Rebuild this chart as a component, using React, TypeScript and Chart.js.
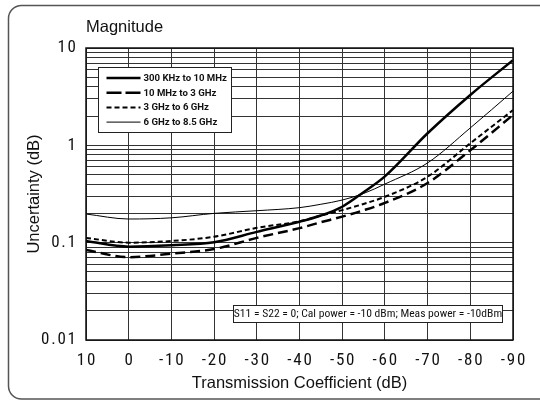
import React, { useEffect, useRef } from "react";
import { Chart, registerables } from "chart.js";

Chart.register(...registerables);

const xValues = [10, 0, -10, -20, -30, -40, -45, -50, -55, -60, -70, -80, -90];
const series300k = [0.104, 0.091, 0.094, 0.101, 0.129, 0.164, 0.19, 0.234, 0.33, 0.48, 1.33, 3.29, 7.5];
const series10M = [0.084, 0.071, 0.077, 0.086, 0.112, 0.141, 0.162, 0.185, 0.215, 0.256, 0.41, 0.89, 2.05];
const series3G = [0.112, 0.1, 0.104, 0.115, 0.142, 0.166, 0.19, 0.216, 0.25, 0.296, 0.476, 1.05, 2.3];
const series6G = [0.197, 0.175, 0.18, 0.2, 0.213, 0.229, 0.248, 0.274, 0.32, 0.4, 0.66, 1.51, 3.6];
const seriesLabels = ["300 KHz to 10 MHz", "10 MHz to 3 GHz", "3 GHz to 6 GHz", "6 GHz to 8.5 GHz"];
const yMajorTicks = [0.01, 0.1, 1, 10];
const yTickLabels = ["0.01", "0.1", "1", "10"];
const titleText = "Magnitude";
const xTitle = "Transmission Coefficient (dB)";
const yTitle = "Uncertainty (dB)";
const noteText = "S11 = S22 = 0; Cal power = -10 dBm; Meas power = -10dBm";

const NARROW = "'Roboto Condensed', 'Liberation Sans Narrow', Roboto, sans-serif";
const SANS = "'Liberation Sans', Arial, sans-serif";
const ROBOTO = "Roboto, 'Liberation Sans', sans-serif";

const spaced = (s: string) => s.split("").join("\u200A");

const decorPlugin = {
  id: "decor",
  beforeDraw(chart: any) {
    const ctx = chart.ctx;
    ctx.save();
    ctx.fillStyle = "#fff";
    ctx.fillRect(0, 0, chart.width, chart.height);
    ctx.restore();
  },
  afterDraw(chart: any) {
    const ctx = chart.ctx;
    const area = chart.chartArea;
    ctx.save();
    // outer rounded border
    ctx.strokeStyle = "#555";
    ctx.lineWidth = 1.5;
    ctx.beginPath();
    const bx = 8.5, by = 5.5, bw = 545, bh = 393.5, r = 13;
    ctx.moveTo(bx + r, by);
    ctx.lineTo(bx + bw - r, by);
    ctx.arcTo(bx + bw, by, bx + bw, by + r, r);
    ctx.lineTo(bx + bw, by + bh - r);
    ctx.arcTo(bx + bw, by + bh, bx + bw - r, by + bh, r);
    ctx.lineTo(bx + r, by + bh);
    ctx.arcTo(bx, by + bh, bx, by + bh - r, r);
    ctx.lineTo(bx, by + r);
    ctx.arcTo(bx, by, bx + r, by, r);
    ctx.stroke();

    // title
    ctx.fillStyle = "#111";
    ctx.font = `16.5px ${SANS}`;
    ctx.textAlign = "left";
    ctx.textBaseline = "middle";
    ctx.fillText(titleText, area.left, 27);

    // legend box
    const lx = area.left + 12.5, ly = 67.5, lw = 133, lh = 65;
    ctx.fillStyle = "#fff";
    ctx.fillRect(lx, ly, lw, lh);
    ctx.strokeStyle = "#222";
    ctx.lineWidth = 1;
    ctx.strokeRect(lx, ly, lw, lh);
    ctx.font = `bold 9.6px ${ROBOTO}`;
    chart.data.datasets.forEach((ds: any, i: number) => {
      const yy = ly + 10.5 + i * 14.7;
      ctx.save();
      ctx.strokeStyle = "#000";
      ctx.lineWidth = ds.borderWidth;
      ctx.setLineDash(ds.legendDash || ds.borderDash || []);
      ctx.beginPath();
      ctx.moveTo(lx + 8, yy);
      ctx.lineTo(lx + 42, yy);
      ctx.stroke();
      ctx.restore();
      ctx.fillStyle = "#111";
      ctx.textAlign = "left";
      ctx.textBaseline = "middle";
      ctx.fillText(ds.label, lx + 45, yy + 0.5);
    });

    // note box
    const nx = 233.5, ny = 305.5, nw = 269, nh = 17;
    ctx.fillStyle = "#fff";
    ctx.fillRect(nx, ny, nw, nh);
    ctx.strokeStyle = "#222";
    ctx.strokeRect(nx, ny, nw, nh);
    ctx.fillStyle = "#111";
    ctx.font = `11.6px ${NARROW}`;
    ctx.textAlign = "center";
    ctx.fillText(noteText, nx + nw / 2, ny + nh / 2 + 0.5);

    // plot border
    ctx.strokeStyle = "#111";
    ctx.lineWidth = 1.5;
    ctx.strokeRect(area.left, area.top, area.right - area.left, area.bottom - area.top);
    ctx.restore();
  },
};

export default function App() {
  const ref = useRef<HTMLCanvasElement | null>(null);
  useEffect(() => {
    document.body.style.margin = "0";
    const styles = [
      { data: series300k, width: 2.5, dash: [] as number[], legendDash: [] as number[] },
      { data: series10M, width: 2.5, dash: [10, 5], legendDash: [15, 4] },
      { data: series3G, width: 2, dash: [5, 3], legendDash: [5, 3] },
      { data: series6G, width: 1, dash: [] as number[], legendDash: [] as number[] },
    ];
    const chart = new Chart(ref.current as HTMLCanvasElement, {
      type: "line",
      data: {
        datasets: styles.map((s, i) => ({
          label: seriesLabels[i],
          data: xValues.map((x, j) => ({ x, y: s.data[j] })),
          borderColor: "#000",
          borderWidth: s.width,
          borderDash: s.dash,
          legendDash: s.legendDash,
          pointRadius: 0,
          cubicInterpolationMode: "monotone",
          fill: false,
        })),
      },
      options: {
        animation: false,
        responsive: false,
        layout: { padding: { left: 0, top: 48, right: 27, bottom: 0 } },
        plugins: { legend: { display: false }, title: { display: false }, tooltip: { enabled: false } },
        scales: {
          x: {
            type: "linear",
            min: -90,
            max: 10,
            reverse: true,
            afterFit: (s: any) => { s.height = 61; },
            ticks: {
              stepSize: 10,
              padding: 11,
              color: "#111",
              font: { family: NARROW, size: 17 },
              callback: (v: any) => spaced(String(v)),
            },
            grid: { color: "#333", lineWidth: 1, drawTicks: false },
            border: { display: false },
            title: {
              display: true,
              text: xTitle,
              color: "#111",
              font: { family: SANS, size: 16.5 },
              padding: { top: 0, bottom: 8 },
            },
          },
          y: {
            type: "logarithmic",
            min: 0.01,
            max: 10,
            afterFit: (s: any) => { s.width = 86; },
            afterBuildTicks: (s: any) => {
              const t: any[] = [];
              for (let d = 0; d < 3; d++) {
                for (let m = 1; m <= 9; m++) {
                  t.push({ value: parseFloat((m * yMajorTicks[d]).toPrecision(3)) });
                }
              }
              t.push({ value: 10 });
              s.ticks = t;
            },
            ticks: {
              autoSkip: false,
              padding: 10,
              color: "#111",
              font: { family: NARROW, size: 17 },
              callback: (v: any) => {
                const idx = yMajorTicks.findIndex((m) => Math.abs(m - v) < 1e-9);
                return idx >= 0 ? spaced(yTickLabels[idx]) : "";
              },
            },
            grid: { color: "#333", lineWidth: 1, drawTicks: false },
            border: { display: false },
            title: {
              display: true,
              text: yTitle,
              color: "#111",
              font: { family: SANS, size: 16.5 },
              padding: { top: 25, bottom: 0 },
            },
          },
        },
      },
      plugins: [decorPlugin],
    } as any);
    return () => chart.destroy();
  }, []);
  return (
    <div style={{ position: "absolute", left: 0, top: 0, width: 540, height: 401 }}>
      <canvas ref={ref} width={540} height={401} style={{ display: "block" }} />
    </div>
  );
}
